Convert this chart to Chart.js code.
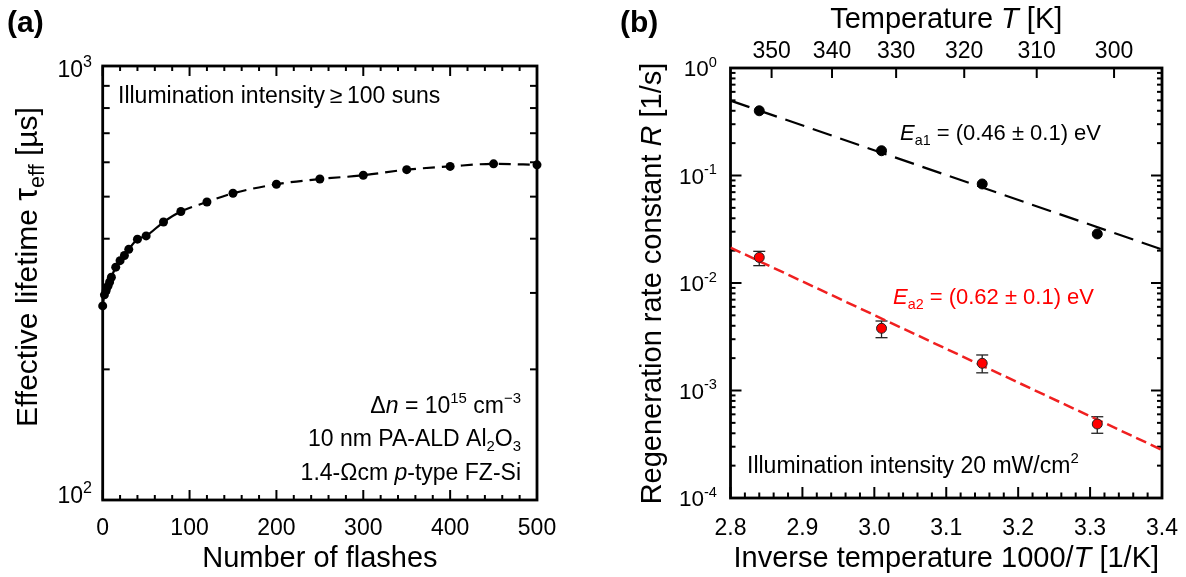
<!DOCTYPE html>
<html><head><meta charset="utf-8">
<script src="https://cdn.jsdelivr.net/npm/chart.js@4.4.0/dist/chart.umd.min.js"></script>
<style>
html,body{margin:0;padding:0;background:#fff;}
#wrap{position:relative;width:1186px;height:577px;overflow:hidden;background:#fff;}
canvas{position:absolute;left:0;top:0;}
</style></head><body>
<div id="wrap"><canvas id="ca" width="1186" height="577"></canvas><canvas id="cb" width="1186" height="577"></canvas></div>
<script>
// ---------- data ----------
const flashes  = [0,2,4,6,8,10,15,20,25,30,40,50,70,90,120,150,200,250,300,350,400,450,500];
const lifetime = [280,297,304,311,318,326,344,356,366,378,399,406,437,462,486,509,534,549,560,577,587,595,592];

const invT      = [2.84,3.01,3.15,3.31];
const rate1     = [0.40,0.170,0.0834,0.0286];
const rate2     = [0.0173,0.00379,0.00179,0.000488];
const rate2Low  = [0.0145,0.0031,0.00146,0.00040];
const rate2High = [0.0197,0.00443,0.00214,0.00057];

const fitX = [2.8,3.4];
const fit1 = [0.497,0.0205];
const fit2 = [0.0213,0.00028];

const flashTicks    = [0,100,200,300,400,500];
const lifetimeTicks = [100,1000];
const lifetimeExp   = ['2','3'];
const invTTicks     = [2.8,2.9,3.0,3.1,3.2,3.3,3.4];
const rateTicks     = [1,0.1,0.01,0.001,0.0001];
const rateExp       = ['0','-1','-2','-3','-4'];
const tempTicks     = [350,340,330,320,310,300];

// ---------- helpers ----------
const FONT = '"Liberation Sans", Arial, Helvetica, sans-serif';
function fontStr(size, it, bold){ return (it?'italic ':'')+(bold?'bold ':'')+size+'px '+FONT; }
function partSize(p, fs){ return p.s ? fs*p.s : ((p.sup||p.sub) ? fs*0.65 : fs); }
function richWidth(ctx, parts, fs){
  let w=0; for(const p of parts){ ctx.font=fontStr(partSize(p,fs),p.i,p.b); w+=ctx.measureText(p.t).width; } return w;
}
function drawRich(ctx, parts, x, y, fs, align, color){
  const w = richWidth(ctx, parts, fs);
  let cx = align==='right' ? x-w : (align==='center' ? x-w/2 : x);
  ctx.save();
  ctx.fillStyle = color||'#000'; ctx.textBaseline='alphabetic'; ctx.textAlign='left';
  for(const p of parts){
    ctx.font = fontStr(partSize(p,fs),p.i,p.b);
    const dy = p.sup ? -fs*0.42 : (p.sub ? fs*0.22 : 0);
    ctx.fillText(p.t, cx, y+dy);
    cx += ctx.measureText(p.t).width;
  }
  ctx.restore();
}
function seg(ctx,x1,y1,x2,y2){ ctx.beginPath(); ctx.moveTo(x1,y1); ctx.lineTo(x2,y2); ctx.stroke(); }

// ---------- panel (a) ----------
const frameA = {
  id:'frameA',
  beforeDatasetsDraw(chart){
    const {ctx, chartArea:a, scales:{x,y}} = chart;
    ctx.save(); ctx.strokeStyle='#000'; ctx.lineWidth=2;
    for(let v=0; v<=500; v+=20){
      const px=x.getPixelForValue(v); const L = (v%100===0)?10:5;
      seg(ctx,px,a.bottom,px,a.bottom-L); seg(ctx,px,a.top,px,a.top+L);
    }
    for(let m=200; m<=900; m+=100){
      const py=y.getPixelForValue(m);
      seg(ctx,a.left,py,a.left+7,py); seg(ctx,a.right,py,a.right-7,py);
    }
    ctx.lineWidth=2.8; ctx.strokeRect(a.left,a.top,a.right-a.left,a.bottom-a.top);
    ctx.restore();
  },
  afterDraw(chart){
    const {ctx, chartArea:a, scales:{x,y}} = chart;
    flashTicks.forEach(v=>drawRich(ctx,[{t:String(v)}],x.getPixelForValue(v),535,23,'center'));
    lifetimeTicks.forEach((v,i)=>{
      let b = y.getPixelForValue(v)+8; b=Math.max(a.top+11, Math.min(a.bottom+3, b));
      drawRich(ctx,[{t:'10'},{t:lifetimeExp[i],sup:true,s:0.7}],92,b,23,'right');
    });
    drawRich(ctx,[{t:'Number of flashes'}],(a.left+a.right)/2,567,29,'center');
    ctx.save(); ctx.translate(37,267); ctx.rotate(-Math.PI/2);
    drawRich(ctx,[{t:'Effective lifetime '},{t:'\u03C4',s:1.08},{t:'eff',sub:true,s:0.72},{t:' [\u00B5s]'}],0,0,30,'center');
    ctx.restore();
    drawRich(ctx,[{t:'(a)',b:true}],7,32,30,'left');
    drawRich(ctx,[{t:'Illumination intensity\u2009\u2265\u2009100 suns'}],118,103,23,'left');
    drawRich(ctx,[{t:'\u0394'},{t:'n',i:true},{t:' = 10'},{t:'15',sup:true},{t:' cm'},{t:'\u22123',sup:true}],521,413,23,'right');
    drawRich(ctx,[{t:'10 nm PA-ALD Al'},{t:'2',sub:true},{t:'O'},{t:'3',sub:true}],521,446,23,'right');
    drawRich(ctx,[{t:'1.4-\u03A9cm '},{t:'p',i:true},{t:'-type FZ-Si'}],521,480,23,'right');
  }
};

new Chart(document.getElementById('ca'), {
  type:'scatter',
  data:{datasets:[{
    data: flashes.map((n,i)=>({x:n,y:lifetime[i]})),
    showLine:true, borderColor:'#000', borderWidth:2.2,
    pointRadius:4.5, pointBackgroundColor:'#000', pointBorderWidth:0,
    cubicInterpolationMode:'monotone', clip:false,
    segment:{borderDash: c => flashes[c.p0DataIndex] >= 90 ? [12,7] : []}
  }]},
  options:{
    responsive:false, animation:false, events:[],
    layout:{padding:{left:102.7, top:66, right:649, bottom:77}},
    plugins:{legend:{display:false}, tooltip:{enabled:false}},
    scales:{
      x:{type:'linear', min:0, max:500, display:false},
      y:{type:'logarithmic', min:100, max:1000, display:false}
    }
  },
  plugins:[frameA]
});

// ---------- panel (b) ----------
const frameB = {
  id:'frameB',
  beforeDatasetsDraw(chart){
    const {ctx, chartArea:a, scales:{x,y}} = chart;
    ctx.save(); ctx.strokeStyle='#000'; ctx.lineWidth=2;
    for(let i=0;i<=30;i++){
      const v=2.8+i*0.02; const px=x.getPixelForValue(v); const L=(i%5===0)?11:5.5;
      seg(ctx,px,a.bottom,px,a.bottom-L);
    }
    tempTicks.forEach(T=>{ const px=x.getPixelForValue(1000/T); seg(ctx,px,a.top,px,a.top+10); });
    for(let d=-4; d<=0; d++){
      const base=Math.pow(10,d);
      const py=y.getPixelForValue(base);
      seg(ctx,a.left,py,a.left+11,py); seg(ctx,a.right,py,a.right-11,py);
      if(d<0){ for(let k=2;k<=9;k++){ const q=y.getPixelForValue(base*k);
        seg(ctx,a.left,q,a.left+5,q); seg(ctx,a.right,q,a.right-5,q); } }
    }
    ctx.lineWidth=2.8; ctx.strokeRect(a.left,a.top,a.right-a.left,a.bottom-a.top);
    // error bars
    ctx.strokeStyle='#222'; ctx.lineWidth=1.3;
    invT.forEach((v,i)=>{
      const px=x.getPixelForValue(v), lo=y.getPixelForValue(rate2Low[i]), hi=y.getPixelForValue(rate2High[i]);
      seg(ctx,px,lo,px,hi); seg(ctx,px-6,lo,px+6,lo); seg(ctx,px-6,hi,px+6,hi);
    });
    ctx.restore();
  },
  afterDraw(chart){
    const {ctx, chartArea:a, scales:{x,y}} = chart;
    invTTicks.forEach(v=>drawRich(ctx,[{t:v.toFixed(1)}],x.getPixelForValue(v),535,23,'center'));
    rateTicks.forEach((v,i)=>drawRich(ctx,[{t:'10'},{t:rateExp[i],sup:true}],717,y.getPixelForValue(v)+8,22.5,'right'));
    tempTicks.forEach(T=>drawRich(ctx,[{t:String(T)}],x.getPixelForValue(1000/T),58,23,'center'));
    drawRich(ctx,[{t:'Temperature '},{t:'T',i:true},{t:' [K]'}],(a.left+a.right)/2,28,29,'center');
    drawRich(ctx,[{t:'Inverse temperature 1000/'},{t:'T',i:true},{t:' [1/K]'}],(a.left+a.right)/2,567,29,'center');
    ctx.save(); ctx.translate(661,283.5); ctx.rotate(-Math.PI/2);
    drawRich(ctx,[{t:'Regeneration rate constant '},{t:'R',i:true},{t:' [1/s]'}],0,0,29,'center');
    ctx.restore();
    drawRich(ctx,[{t:'(b)',b:true}],620,32,30,'left');
    drawRich(ctx,[{t:'E',i:true},{t:'a1',sub:true},{t:' = (0.46 \u00B1 0.1) eV'}],900,140,22,'left','#000');
    drawRich(ctx,[{t:'E',i:true},{t:'a2',sub:true},{t:' = (0.62 \u00B1 0.1) eV'}],893,304,22,'left','#ff0000');
    drawRich(ctx,[{t:'Illumination intensity 20 mW/cm'},{t:'2',sup:true}],747,473,23,'left');
  }
};

new Chart(document.getElementById('cb'), {
  type:'scatter',
  data:{datasets:[
    {data: invT.map((v,i)=>({x:v,y:rate1[i]})), showLine:false, pointRadius:5,
     pointBackgroundColor:'#000', pointBorderColor:'#000', pointBorderWidth:1},
    {data: invT.map((v,i)=>({x:v,y:rate2[i]})), showLine:false, pointRadius:5,
     pointBackgroundColor:'#ff0000', pointBorderColor:'#222', pointBorderWidth:1},
    {data: fitX.map((v,i)=>({x:v,y:fit1[i]})), showLine:true, pointRadius:0,
     borderColor:'#000', borderWidth:2.2, borderDash:[20,9]},
    {data: fitX.map((v,i)=>({x:v,y:fit2[i]})), showLine:true, pointRadius:0,
     borderColor:'#f02020', borderWidth:2.5, borderDash:[11,5]}
  ]},
  options:{
    responsive:false, animation:false, events:[],
    layout:{padding:{left:730.5, top:68, right:24, bottom:79}},
    plugins:{legend:{display:false}, tooltip:{enabled:false}},
    scales:{
      x:{type:'linear', min:2.8, max:3.4, display:false},
      y:{type:'logarithmic', min:0.0001, max:1, display:false}
    }
  },
  plugins:[frameB]
});
</script>
</body></html>
